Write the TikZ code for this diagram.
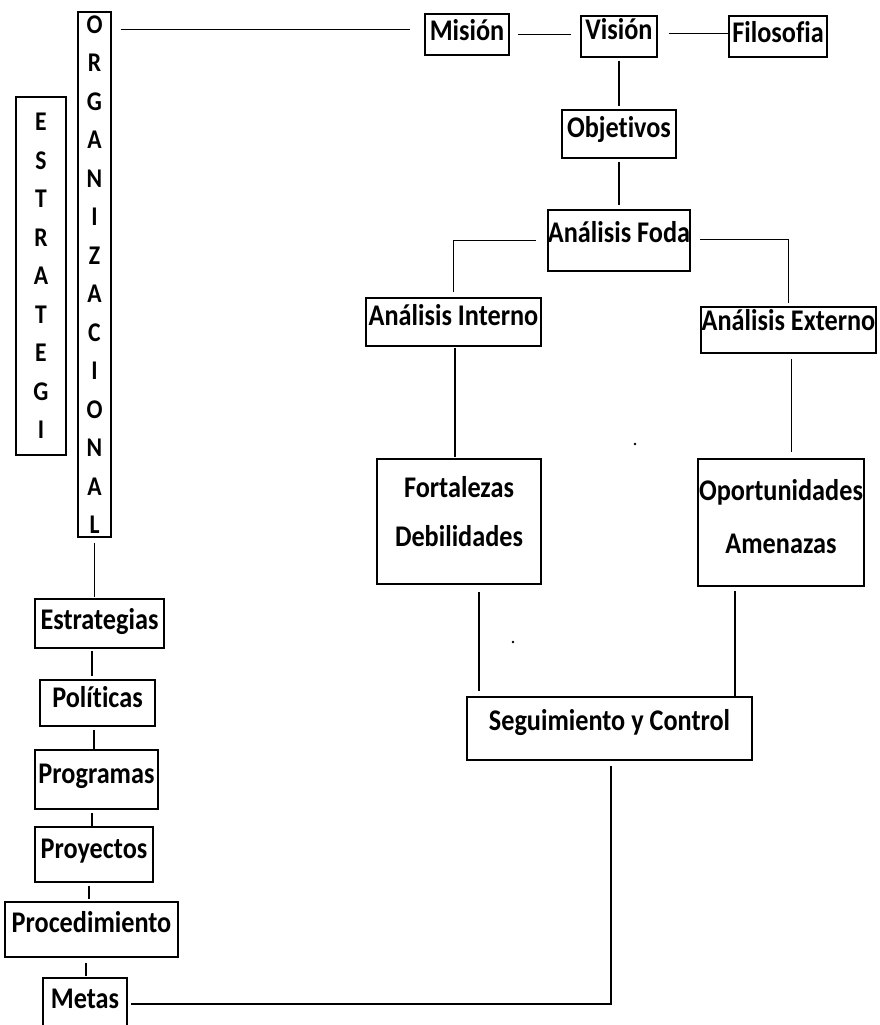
\documentclass[tikz,border=0pt]{standalone}
\usepackage{fontspec}
\setmainfont{Carlito}[FakeStretch=0.875,Ligatures=NoCommon]
\tikzset{
  caja/.style={draw, line width=1.9pt, inner sep=0pt, anchor=base, align=center},
  linea/.style={line width=1.9pt},
}
\begin{document}
\begin{tikzpicture}[x=1pt,y=-1pt,font=\bfseries\fontsize{30}{36}\selectfont]
  \useasboundingbox (0,0) rectangle (879,1025);
  % columnas de la izquierda
  \node[caja, anchor=center, minimum width=50pt, minimum height=358pt,
        font=\bfseries\fontsize{27}{38.5}\selectfont] (estrategi) at (41,276)
        {E\\S\\T\\R\\A\\T\\E\\G\\I};
  \node[caja, anchor=center, minimum width=33pt, minimum height=525pt,
        font=\bfseries\fontsize{27}{38.5}\selectfont] (org) at (94.5,274.5)
        {O\\R\\G\\A\\N\\I\\Z\\A\\C\\I\\O\\N\\A\\L};
  % fila superior
  \node[caja, minimum width=84pt, text height=27pt, text depth=14pt] (mision) at (467,41) {Misión};
  \node[caja, minimum width=76pt, text height=24pt, text depth=17pt] (vision) at (619,40) {Visión};
  \node[caja, minimum width=98pt, text height=27pt, text depth=14pt] (filosofia) at (778,43) {Filosofia};
  \node[caja, minimum width=114pt, text height=27pt, text depth=21pt] (objetivos) at (619,137) {Objetivos};
  \node[caja, minimum width=142pt, text height=32pt, text depth=29pt] (foda) at (619,242) {Análisis Foda};
  \node[caja, minimum width=175pt, text height=27pt, text depth=21pt] (interno) at (453.5,325) {Análisis Interno};
  \node[caja, minimum width=175pt, text height=23pt, text depth=23pt] (externo) at (788.5,330) {Análisis Externo};
  \node[caja, minimum width=164pt, text height=87pt, text depth=38pt,
        font=\bfseries\fontsize{30}{49}\selectfont] (fort) at (459,546) {Fortalezas\\Debilidades};
  \node[caja, minimum width=166pt, text height=94pt, text depth=33pt,
        font=\bfseries\fontsize{30}{53}\selectfont] (oport) at (781,553) {Oportunidades\\Amenazas};
  \node[caja, minimum width=285pt, text height=33pt, text depth=30pt] (seg) at (609.5,730) {Seguimiento y Control};
  % cadena de la izquierda
  \node[caja, minimum width=129pt, text height=30pt, text depth=19pt] (estr) at (99.5,629) {Estrategias};
  \node[caja, minimum width=115pt, text height=27pt, text depth=19pt] (pol) at (97.5,707) {Políticas};
  \node[caja, minimum width=123pt, text height=33pt, text depth=26pt] (prog) at (96.5,783) {Programas};
  \node[caja, minimum width=118pt, text height=31pt, text depth=24pt] (proy) at (94,858) {Proyectos};
  \node[caja, minimum width=173pt, text height=30pt, text depth=25pt] (proc) at (91.5,932) {Procedimiento};
  \node[caja, minimum width=84pt, text height=30pt, text depth=22pt] (metas) at (85,1008) {Metas};

  \draw[linea, shorten <=9pt, shorten >=14pt] ([yshift=5pt]org.east |- mision.west) -- ([yshift=5pt]mision.west);
  \draw[linea, shorten <=8pt, shorten >=9pt] (mision.east) -- (mision.east -| vision.west);
  \draw[linea, shorten <=11pt] ([yshift=3pt]vision.east) -- ([yshift=3pt]vision.east -| filosofia.west);
  \draw[linea, shorten <=3pt, shorten >=3pt] (vision.south) -- (objetivos.north);
  \draw[linea, shorten <=3pt, shorten >=4pt] (objetivos.south) -- (foda.north);
  \draw[linea, shorten <=11pt, shorten >=5pt] (foda.west) -| (interno.north);
  \draw[linea, shorten <=9pt, shorten >=3pt] ([yshift=1pt]foda.east) -| (externo.north);
  \draw[linea, shorten <=1pt, shorten >=1pt] ([xshift=1.5pt]interno.south) -- ([xshift=1.5pt]interno.south |- fort.north);
  \draw[linea, shorten <=5pt, shorten >=6pt] ([xshift=3pt]externo.south) -- ([xshift=3pt]externo.south |- oport.north);
  \draw[linea, shorten <=7pt, shorten >=5pt] ([xshift=20pt]fort.south) -- ([xshift=20pt]fort.south |- seg.north);
  \draw[linea, shorten >=4pt] ([xshift=-18pt]seg.north east) -- ([xshift=-18pt]seg.north east |- oport.south);
  \draw[linea, shorten <=5pt, shorten >=3pt] ([xshift=1.5pt]seg.south) |- (metas.east);
  % cadena izquierda
  \draw[linea, shorten <=5pt, shorten >=1pt] (org.south) -- (org.south |- estr.north);
  \draw[linea, shorten <=2pt, shorten >=3pt] ([xshift=-7.5pt]estr.south) -- ([xshift=-7.5pt]estr.south |- pol.north);
  \draw[linea, shorten <=3pt] ([xshift=-3.5pt]pol.south) -- ([xshift=-3.5pt]pol.south |- prog.north);
  \draw[linea, shorten <=3pt] ([xshift=-4.5pt]prog.south) -- ([xshift=-4.5pt]prog.south |- proy.north);
  \draw[linea, shorten <=3pt, shorten >=2pt] ([xshift=-5pt]proy.south) -- ([xshift=-5pt]proy.south |- proc.north);
  \draw[linea, shorten <=5pt, shorten >=1pt] ([xshift=-5.5pt]proc.south) -- ([xshift=-5.5pt]proc.south |- metas.north);

  \fill (635,444) circle (1.4);
  \fill (513,642) circle (1.4);
\end{tikzpicture}
\end{document}
